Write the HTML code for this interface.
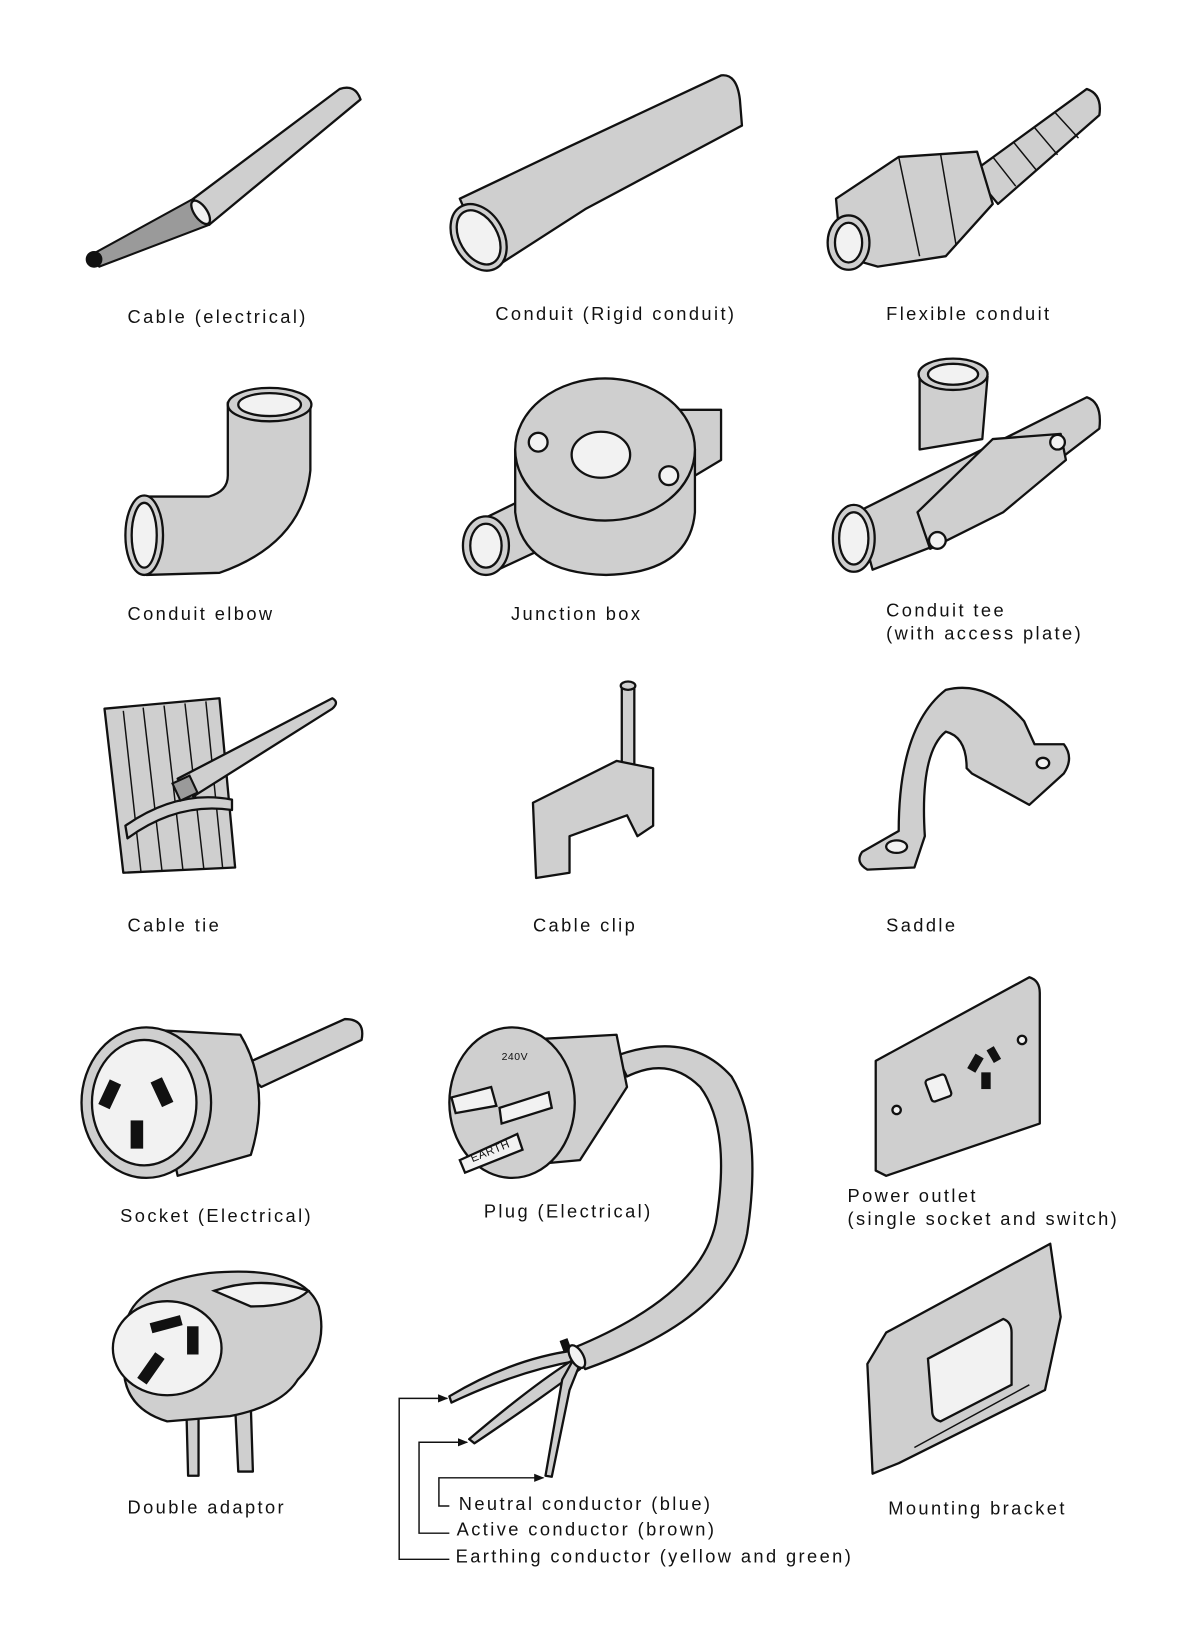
<!DOCTYPE html>
<html><head><meta charset="utf-8"><style>
html,body{margin:0;padding:0;background:#fff;}
svg{display:block;}
text{font-family:"Liberation Sans",sans-serif;font-size:17.5px;letter-spacing:2.3px;fill:#111;}
.s{fill:#cfcfcf;stroke:#111;stroke-width:2.2;stroke-linejoin:round;}
.w{fill:#f2f2f2;stroke:#111;stroke-width:2.2;}
.d{fill:#9a9a9a;stroke:#111;stroke-width:2;}
.k{fill:#111;stroke:#111;stroke-width:2;}
.l{fill:none;stroke:#111;stroke-width:1.4;}
</style></head><body>
<svg width="1184" height="1641" viewBox="0 0 1133 1570" xmlns="http://www.w3.org/2000/svg">
<defs><marker id="a" viewBox="0 0 10 10" refX="9" refY="5" markerWidth="7" markerHeight="7" orient="auto"><path d="M0,1 L10,5 L0,9z" fill="#111"/></marker></defs>

<!-- Cable -->
<path class="s" d="M185,190 L325,85 Q340,80 345,95 L200,215 Z"/>
<path class="d" d="M85,245 L185,190 L200,215 L95,255 Z"/>
<circle class="k" cx="90" cy="248" r="7"/>
<ellipse class="w" cx="192" cy="203" rx="6" ry="13" transform="rotate(-35 192 203)"/>

<!-- Rigid conduit -->
<path class="s" d="M440,190 L545,140 L690,72 Q705,70 708,95 L710,120 L560,200 L470,258 Z"/>
<ellipse class="s" cx="458" cy="227" rx="24" ry="34" transform="rotate(-30 458 227)"/>
<ellipse class="w" cx="458" cy="227" rx="18" ry="28" transform="rotate(-30 458 227)"/>

<!-- Flexible conduit -->
<path class="s" d="M930,165 L1040,85 Q1055,90 1052,110 L955,195 Z"/>
<path class="l" d="M950,150 L972,178 M970,136 L992,163 M990,122 L1012,148 M1010,108 L1032,132"/>
<path class="s" d="M800,190 L860,150 L935,145 L950,195 L905,245 L840,255 L805,245 Z"/>
<path class="l" d="M860,150 L880,245 M900,147 L915,235"/>
<ellipse class="s" cx="812" cy="232" rx="20" ry="26"/>
<ellipse class="w" cx="812" cy="232" rx="13" ry="19"/>

<text x="122" y="309">Cable (electrical)</text>
<text x="474" y="306">Conduit (Rigid conduit)</text>
<text x="848" y="306">Flexible conduit</text>

<!-- Elbow -->
<path class="s" d="M218,385 L218,455 Q218,470 200,475 L140,475 L140,550 L210,548 Q290,520 297,450 L297,385 Z"/>
<ellipse class="s" cx="258" cy="387" rx="40" ry="16"/>
<ellipse class="w" cx="258" cy="387" rx="30" ry="11"/>
<ellipse class="s" cx="138" cy="512" rx="18" ry="38"/>
<ellipse class="w" cx="138" cy="512" rx="12" ry="31"/>

<!-- Junction box -->
<path class="s" d="M620,392 L690,392 L690,440 L640,470 Z"/>
<path class="s" d="M455,500 L500,478 L530,520 L470,548 Z"/>
<path class="s" d="M493,430 L493,490 Q500,548 580,550 Q660,548 665,490 L665,430 Z"/>
<ellipse class="s" cx="579" cy="430" rx="86" ry="68"/>
<ellipse class="w" cx="575" cy="435" rx="28" ry="22"/>
<circle class="w" cx="515" cy="423" r="9"/><circle class="w" cx="640" cy="455" r="9"/>
<ellipse class="s" cx="465" cy="522" rx="22" ry="28"/>
<ellipse class="w" cx="465" cy="522" rx="15" ry="21"/>

<!-- Conduit tee -->
<path class="s" d="M820,490 L1040,380 Q1055,385 1052,410 L1000,450 L900,520 L835,545 Z"/>
<path class="s" d="M880,360 L880,430 L940,420 L945,360 Z"/>
<ellipse class="s" cx="912" cy="358" rx="33" ry="15"/>
<ellipse class="w" cx="912" cy="358" rx="24" ry="10"/>
<path class="s" d="M878,490 L950,420 L1015,415 L1020,440 L960,490 L890,525 Z"/>
<circle class="w" cx="897" cy="517" r="8"/><circle class="w" cx="1012" cy="423" r="7"/>
<ellipse class="s" cx="817" cy="515" rx="20" ry="32"/>
<ellipse class="w" cx="817" cy="515" rx="14" ry="25"/>

<text x="122" y="593">Conduit elbow</text>
<text x="489" y="593">Junction box</text>
<text x="848" y="590">Conduit tee</text>
<text x="848" y="612">(with access plate)</text>

<!-- Cable tie -->
<path class="s" d="M100,678 L210,668 L225,830 L118,835 Z"/>
<path class="l" d="M118,680 L135,835 M137,677 L155,833 M157,675 L175,832 M177,673 L195,831 M197,671 L213,830"/>
<path class="s" d="M170,745 L318,668 Q325,672 318,678 L185,762 Z"/>
<path class="s" d="M120,790 Q170,755 222,765 L222,775 Q170,767 122,802 Z"/>
<rect class="d" x="168" y="745" width="18" height="18" transform="rotate(-25 177 754)"/>

<!-- Cable clip -->
<rect class="s" x="595" y="655" width="12" height="80"/>
<ellipse class="s" cx="601" cy="656" rx="7" ry="4"/>
<path class="s" d="M510,768 L590,728 L625,735 L625,790 L610,800 L600,780 L545,800 L545,835 L513,840 Z"/>

<!-- Saddle -->
<path class="s" d="M825,815 L860,795 Q860,695 905,660 Q945,650 980,690 L990,712 L1018,712 Q1028,725 1018,740 L985,770 L930,740 L925,735 Q925,705 905,700 Q880,720 885,800 L875,830 L830,832 Q818,825 825,815 Z"/>
<ellipse class="w" cx="858" cy="810" rx="10" ry="6"/>
<ellipse class="w" cx="998" cy="730" rx="6" ry="5"/>

<text x="122" y="891">Cable tie</text>
<text x="510" y="891">Cable clip</text>
<text x="848" y="891">Saddle</text>

<!-- Socket -->
<path class="s" d="M230,1020 L330,975 Q350,975 346,995 L250,1040 Z"/>
<path class="s" d="M140,985 L230,990 Q260,1040 240,1105 L170,1125 Z"/>
<ellipse class="s" cx="140" cy="1055" rx="62" ry="72"/>
<ellipse class="w" cx="138" cy="1055" rx="50" ry="60"/>
<rect class="k" x="100" y="1035" width="10" height="24" transform="rotate(25 105 1047)"/>
<rect class="k" x="150" y="1033" width="10" height="24" transform="rotate(-25 155 1045)"/>
<rect class="k" x="126" y="1073" width="10" height="25"/>

<!-- Plug & cord -->
<path class="s" d="M590,1010 Q660,985 700,1030 Q730,1080 715,1180 Q700,1260 560,1310 L548,1290 Q670,1240 685,1170 Q700,1080 670,1040 Q640,1010 600,1030 Z"/>
<path class="s" d="M500,995 L590,990 L600,1040 L555,1110 L500,1115 Z"/>
<ellipse class="s" cx="490" cy="1055" rx="60" ry="72"/>
<path class="w" d="M478,1060 L525,1045 L528,1060 L480,1075 Z"/>
<path class="w" d="M432,1050 L470,1040 L475,1058 L436,1065 Z"/>
<path class="w" d="M440,1110 L495,1085 L500,1100 L445,1122 Z"/>
<text x="452" y="1112" style="font-size:11px;letter-spacing:0.5px" transform="rotate(-22 452 1112)">EARTH</text>
<text x="480" y="1014" style="font-size:10px;letter-spacing:0.5px">240V</text>

<!-- Wires -->
<rect class="k" x="540" y="1282" width="6" height="20" transform="rotate(-20 543 1292)"/>
<path class="s" d="M430,1336 Q490,1300 550,1292 L552,1302 Q495,1312 432,1342 Z"/>
<path class="s" d="M449,1377 Q510,1325 550,1300 L555,1310 Q515,1340 454,1381 Z"/>
<path class="s" d="M522,1412 L538,1320 L548,1302 L555,1305 L545,1330 L528,1413 Z"/>
<ellipse class="w" cx="552" cy="1298" rx="6" ry="12" transform="rotate(-30 552 1298)"/>

<path class="l" marker-end="url(#a)" d="M430,1492 L382,1492 L382,1338 L428,1338"/>
<path class="l" marker-end="url(#a)" d="M430,1467 L401,1467 L401,1380 L447,1380"/>
<path class="l" marker-end="url(#a)" d="M430,1441 L420,1441 L420,1414 L520,1414"/>

<!-- Power outlet -->
<path class="s" d="M838,1015 L985,935 Q995,938 995,950 L995,1075 L848,1125 L838,1120 Z"/>
<rect class="w" x="888" y="1030" width="20" height="22" rx="3" transform="rotate(-20 898 1041)"/>
<rect class="k" x="930" y="1010" width="7" height="14" transform="rotate(30 933 1017)"/>
<rect class="k" x="940" y="1027" width="7" height="14"/>
<rect class="k" x="948" y="1003" width="6" height="12" transform="rotate(-30 951 1009)"/>
<circle class="w" cx="978" cy="995" r="4"/><circle class="w" cx="858" cy="1062" r="4"/>

<text x="115" y="1169">Socket (Electrical)</text>
<text x="463" y="1165">Plug (Electrical)</text>
<text x="811" y="1150">Power outlet</text>
<text x="811" y="1172">(single socket and switch)</text>

<!-- Double adaptor -->
<path class="s" d="M178,1335 L180,1412 L190,1412 L190,1340 Z"/>
<path class="s" d="M225,1345 L228,1408 L242,1408 L240,1345 Z"/>
<path class="s" d="M120,1290 Q110,1230 200,1218 Q290,1210 305,1250 Q315,1290 285,1320 Q270,1345 220,1355 L160,1360 Q110,1345 120,1290 Z"/>
<ellipse class="w" cx="160" cy="1290" rx="52" ry="45"/>
<rect class="k" x="145" y="1263" width="28" height="8" transform="rotate(-15 159 1267)"/>
<rect class="k" x="180" y="1270" width="9" height="25"/>
<rect class="k" x="140" y="1295" width="9" height="28" transform="rotate(35 144 1309)"/>
<path class="w" d="M205,1235 Q250,1220 295,1235 Q280,1250 240,1250 Z"/>

<!-- Mounting bracket -->
<path class="s" d="M848,1275 L1005,1190 L1015,1260 L1000,1330 L860,1400 L835,1410 L830,1305 Z"/>
<path class="w" d="M888,1300 L960,1262 Q968,1265 968,1275 L968,1325 L900,1360 Q892,1358 892,1350 Z"/>
<path class="l" d="M875,1385 L985,1325"/>

<text x="122" y="1448">Double adaptor</text>
<text x="850" y="1449">Mounting bracket</text>
<text x="439" y="1445">Neutral conductor (blue)</text>
<text x="437" y="1469">Active conductor (brown)</text>
<text x="436" y="1495">Earthing conductor (yellow and green)</text>
</svg>
</body></html>
